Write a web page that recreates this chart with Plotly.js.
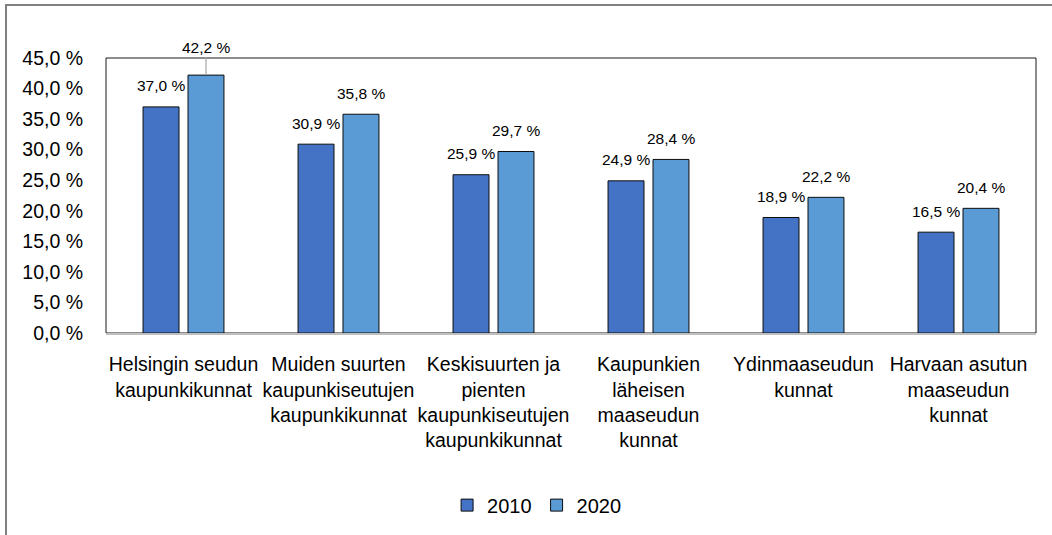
<!DOCTYPE html>
<html>
<head>
<meta charset="utf-8">
<script src="https://cdn.plot.ly/plotly-3.0.1.min.js"></script>
<style>
html,body{margin:0;padding:0;background:#fff;overflow:hidden;}
#frame{position:absolute;left:5px;top:4px;width:1100px;height:600px;border-left:2px solid #808080;border-top:2px solid #808080;box-sizing:border-box;pointer-events:none;z-index:5;}
#chart{position:absolute;left:0;top:0;width:1052px;height:535px;}
</style>
</head>
<body>
<div id="chart"></div>
<div id="frame"></div>
<script>
const categories = [
  "Helsingin seudun<br>kaupunkikunnat",
  "Muiden suurten<br>kaupunkiseutujen<br>kaupunkikunnat",
  "Keskisuurten ja<br>pienten<br>kaupunkiseutujen<br>kaupunkikunnat",
  "Kaupunkien<br>läheisen<br>maaseudun<br>kunnat",
  "Ydinmaaseudun<br>kunnat",
  "Harvaan asutun<br>maaseudun<br>kunnat"
];
const values2010 = [37.0, 30.9, 25.9, 24.9, 18.9, 16.5];
const values2020 = [42.2, 35.8, 29.7, 28.4, 22.2, 20.4];
const seriesNames = ["2010", "2020"];

const fmt = v => v.toFixed(1).replace(".", ",") + " %";
const font = "Liberation Sans, Arial, sans-serif";

const traces = [
  {type: "bar", name: seriesNames[0], x: categories, y: values2010,
   marker: {color: "#4472C4", line: {color: "#0d0d0d", width: 1}}, hoverinfo: "none"},
  {type: "bar", name: seriesNames[1], x: categories, y: values2020,
   marker: {color: "#5B9BD5", line: {color: "#0d0d0d", width: 1}}, hoverinfo: "none"}
];

const annotations = [];
[values2010, values2020].forEach((vals, s) => {
  vals.forEach((v, i) => {
    const leader = v > 40;
    annotations.push({
      x: categories[i], y: v, xref: "x", yref: "y",
      text: fmt(v), xshift: s === 0 ? -22.5 : 22.5,
      yshift: leader ? 0 : 21,
      showarrow: leader, arrowhead: 0, arrowwidth: 1.2, arrowcolor: "#A6A6A6",
      ax: 0, ay: -28, standoff: 0,
      yanchor: "middle",
      font: {family: font, size: 15.5, color: "#000"}
    });
  });
});

const layout = {
  width: 1052, height: 535,
  margin: {l: 106, r: 16, t: 58, b: 201, pad: 0},
  paper_bgcolor: "#fff", plot_bgcolor: "#fff",
  separators: ", ",
  font: {family: font, color: "#000"},
  barmode: "group", bargap: 0.42, bargroupgap: 0.2,
  xaxis: {
    type: "category", showgrid: false, zeroline: false,
    showline: true, linecolor: "#BFBFBF", linewidth: 2,
    ticks: "", ticklabelstandoff: 13,
    tickfont: {family: font, size: 19.5, color: "#000"},
    tickangle: 0, fixedrange: true
  },
  yaxis: {
    range: [0, 45], dtick: 5, tick0: 0, tickformat: ".1f", ticksuffix: " %",
    showgrid: false, zeroline: false, showline: false,
    ticks: "", ticklabelstandoff: 22,
    tickfont: {family: font, size: 19.5, color: "#000"}, fixedrange: true
  },
  shapes: [{type: "rect", xref: "paper", yref: "paper", x0: 0, x1: 1, y0: 0, y1: 1,
            line: {color: "#1a1a1a", width: 1}, layer: "below"}],
  annotations: annotations,
  showlegend: true,
  legend: {orientation: "h", x: 0.463, xanchor: "center", y: -0.62, yanchor: "middle",
           font: {family: font, size: 20, color: "#000"}, itemclick: false, itemdoubleclick: false}
};

Plotly.newPlot("chart", traces, layout, {displayModeBar: false, staticPlot: true});
</script>
</body>
</html>
